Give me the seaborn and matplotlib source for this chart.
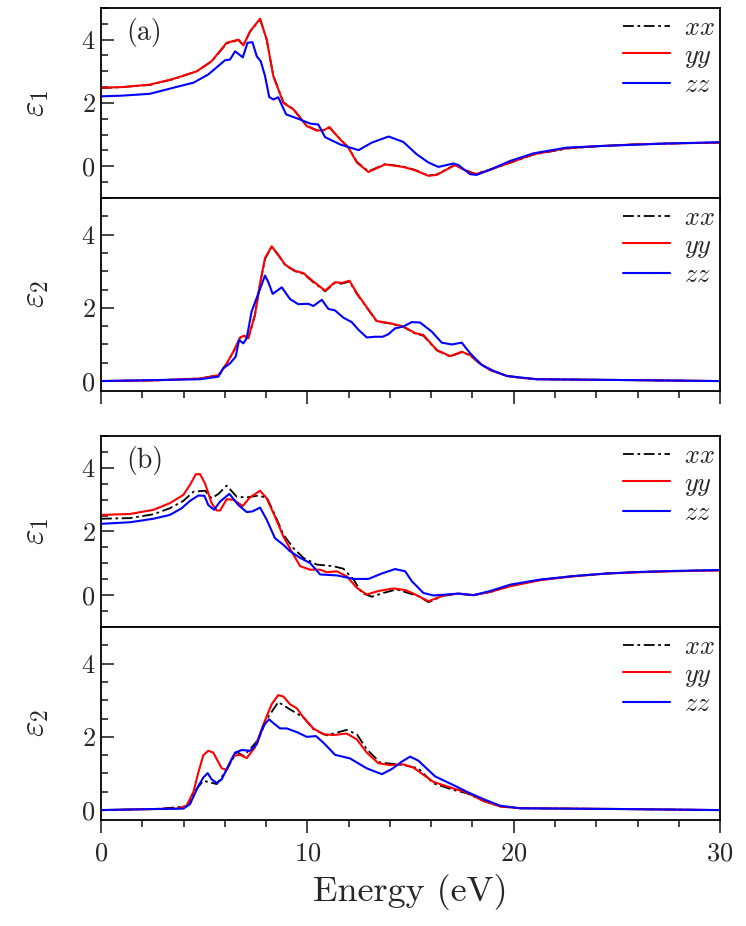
import numpy as np
import pandas as pd
import matplotlib
matplotlib.use('Agg')
import matplotlib.pyplot as plt
import seaborn as sns
from matplotlib.ticker import MultipleLocator

# ---- panel (a), epsilon_1 ----
a1_yy_e = [0, 1.0, 2.37, 3.5, 4.64, 5.36, 6.09, 6.66, 6.9, 7.22, 7.71, 8.03, 8.35, 8.84, 9.32, 9.97,
           10.46, 10.78, 11.07, 11.59, 11.99, 12.4, 12.96, 13.77, 14.65, 15.2, 15.87, 16.27, 16.76,
           17.16, 17.56, 18.13, 18.77, 19.83, 20.96, 22.57, 24.19, 25.8, 27.42, 30]
a1_yy = [2.48, 2.5, 2.58, 2.76, 3.0, 3.32, 3.9, 4.0, 3.82, 4.26, 4.66, 4.0, 2.85, 2.0, 1.8, 1.27,
         1.13, 1.13, 1.24, 0.85, 0.59, 0.12, -0.18, 0.06, -0.02, -0.12, -0.3, -0.27, -0.1,
         0.04, -0.1, -0.25, -0.13, 0.12, 0.38, 0.57, 0.64, 0.69, 0.72, 0.75]
a1_xx = [2.47, 2.5, 2.57, 2.75, 3.0, 3.31, 3.88, 3.99, 3.82, 4.25, 4.64, 4.0, 2.86, 2.02, 1.81, 1.28,
         1.14, 1.14, 1.22, 0.86, 0.6, 0.14, -0.16, 0.07, -0.01, -0.11, -0.29, -0.26, -0.09,
         0.05, -0.09, -0.24, -0.12, 0.11, 0.37, 0.56, 0.64, 0.69, 0.72, 0.75]
a1_zz_e = [0, 1.0, 2.37, 3.5, 4.48, 5.2, 6.01, 6.25, 6.5, 6.66, 6.87, 7.1, 7.34, 7.55, 7.74, 7.95,
           8.15, 8.35, 8.59, 8.97, 9.64, 10.13, 10.53, 10.86, 11.59, 12.48, 13.13, 13.94, 14.65,
           15.3, 15.87, 16.35, 17.08, 17.32, 17.89, 18.21, 18.77, 19.83, 20.96, 22.57, 24.19,
           25.8, 27.42, 30]
a1_zz = [2.21, 2.23, 2.29, 2.48, 2.64, 2.9, 3.35, 3.37, 3.63, 3.55, 3.44, 3.9, 3.92, 3.47, 3.32, 2.85,
         2.19, 2.11, 2.18, 1.64, 1.48, 1.35, 1.32, 0.92, 0.69, 0.51, 0.75, 0.94, 0.77,
         0.38, 0.12, -0.02, 0.09, 0.04, -0.25, -0.27, -0.13, 0.17, 0.41, 0.59, 0.64,
         0.68, 0.72, 0.76]

# ---- panel (a), epsilon_2 ----
a2_yy_e = [0, 2.7, 4.8, 5.69, 6.09, 6.41, 6.74, 6.93, 7.14, 7.46, 7.71, 7.95, 8.27, 8.59, 8.92, 9.4,
           9.81, 10.29, 10.86, 11.34, 11.67, 12.04, 12.4, 12.8, 13.36, 14.01, 14.65, 15.22, 15.62,
           16.27, 16.92, 17.48, 17.89, 18.37, 18.86, 19.67, 20.31, 21.12, 25, 30]
a2_yy = [0, 0.02, 0.07, 0.16, 0.48, 0.8, 1.19, 1.24, 1.17, 1.81, 2.68, 3.36, 3.68, 3.45, 3.18, 3.01,
         2.95, 2.72, 2.47, 2.7, 2.68, 2.74, 2.4, 2.08, 1.64, 1.58, 1.49, 1.31, 1.26,
         0.85, 0.68, 0.8, 0.71, 0.48, 0.3, 0.14, 0.09, 0.05, 0.03, 0.0]
a2_xx = [0, 0.02, 0.07, 0.16, 0.47, 0.79, 1.18, 1.23, 1.17, 1.8, 2.66, 3.34, 3.66, 3.44, 3.17, 3.0,
         2.93, 2.7, 2.45, 2.68, 2.66, 2.72, 2.38, 2.07, 1.63, 1.57, 1.48, 1.3, 1.24,
         0.84, 0.67, 0.79, 0.7, 0.47, 0.3, 0.14, 0.09, 0.05, 0.03, 0.0]
a2_zz_e = [0, 4.8, 5.69, 5.93, 6.25, 6.53, 6.69, 6.9, 7.06, 7.3, 7.63, 7.95, 8.11, 8.32, 8.76, 9.16,
           9.56, 10.05, 10.29, 10.7, 11.02, 11.34, 11.75, 12.15, 12.48, 12.88, 13.28, 13.65, 13.93,
           14.25, 14.65, 15.06, 15.46, 16.03, 16.51, 17.0, 17.48, 17.89, 18.45, 19.02, 19.67,
           21.12, 25, 30]
a2_zz = [0, 0.05, 0.12, 0.35, 0.48, 0.67, 1.12, 1.03, 1.17, 1.9, 2.4, 2.88, 2.7, 2.38, 2.56, 2.24,
         2.1, 2.11, 2.05, 2.22, 1.97, 1.93, 1.73, 1.61, 1.4, 1.19, 1.21, 1.21, 1.28,
         1.44, 1.49, 1.61, 1.6, 1.35, 1.05, 1.0, 1.05, 0.76, 0.44, 0.28, 0.14,
         0.05, 0.03, 0.0]

# ---- panel (b), epsilon_1 ----
b1_yy_e = [0, 1.41, 2.54, 3.34, 3.99, 4.31, 4.6, 4.8, 5.04, 5.36, 5.61, 5.77, 6.09, 6.41, 6.87, 7.22,
           7.71, 8.03, 8.43, 8.84, 9.24, 9.65, 10.13, 10.62, 10.94, 11.43, 11.91, 12.4, 12.88,
           13.44, 14.17, 14.74, 15.14, 15.87, 16.59, 17.32, 18.05, 18.86, 19.83, 21.28, 22.9,
           24.51, 26.13, 27.74, 30]
b1_yy = [2.52, 2.55, 2.68, 2.89, 3.15, 3.46, 3.8, 3.8, 3.51, 2.89, 2.66, 2.66, 3.01, 3.0, 2.8, 3.07,
         3.28, 3.04, 2.47, 1.84, 1.37, 0.91, 0.8, 0.8, 0.72, 0.75, 0.59, 0.23, 0.02,
         0.13, 0.21, 0.16, 0.05, -0.19, -0.01, 0.05, 0.0, 0.1, 0.28, 0.47, 0.59,
         0.68, 0.72, 0.75, 0.78]
b1_xx_e = [0, 1.41, 2.54, 3.34, 3.99, 4.48, 5.04, 5.36, 5.69, 6.09, 6.58, 7.06, 7.55, 8.03, 8.43,
           8.84, 9.32, 9.81, 10.46, 11.26, 11.75, 12.24, 12.64, 13.12, 13.69, 14.33, 15.38, 15.87,
           16.59, 17.32, 18.05, 18.86, 19.83, 21.28, 22.9, 24.51, 26.13, 27.74, 30]
b1_xx = [2.4, 2.42, 2.54, 2.73, 2.96, 3.25, 3.28, 3.04, 3.18, 3.44, 3.09, 3.07, 3.12, 3.07, 2.52,
         1.9, 1.48, 1.17, 0.96, 0.91, 0.83, 0.49, 0.07, -0.05, 0.07, 0.18, -0.03, -0.22,
         -0.02, 0.04, 0.0, 0.1, 0.29, 0.48, 0.6, 0.68, 0.73, 0.76, 0.78]
b1_zz_e = [0, 1.41, 2.54, 3.34, 3.91, 4.31, 4.72, 5.01, 5.2, 5.48, 5.77, 6.22, 6.66, 7.06, 7.34,
           7.71, 8.03, 8.43, 8.84, 9.16, 9.65, 10.13, 10.62, 11.43, 12.24, 12.96, 13.61, 14.25,
           14.74, 15.06, 15.38, 15.62, 16.11, 16.76, 17.32, 18.05, 18.86, 19.83, 21.28, 22.9,
           24.51, 26.13, 27.74, 30]
b1_zz = [2.24, 2.29, 2.4, 2.52, 2.73, 2.96, 3.13, 3.12, 2.83, 2.68, 2.94, 3.18, 2.83, 2.61, 2.63,
         2.75, 2.37, 1.79, 1.58, 1.38, 1.17, 1.01, 0.65, 0.62, 0.51, 0.51, 0.68, 0.82,
         0.75, 0.44, 0.23, 0.07, -0.01, 0.02, 0.05, 0.0, 0.13, 0.33, 0.49, 0.6,
         0.68, 0.73, 0.76, 0.79]

# ---- panel (b), epsilon_2 ----
b2_yy_e = [0, 2.7, 3.67, 4.15, 4.48, 4.72, 4.96, 5.2, 5.44, 5.85, 6.09, 6.41, 6.74, 7.06, 7.46,
           7.87, 8.27, 8.59, 8.84, 9.16, 9.49, 9.81, 10.29, 10.78, 11.26, 11.91, 12.4, 12.88,
           13.44, 14.01, 14.65, 15.14, 16.11, 17.08, 17.73, 18.53, 19.34, 20.31, 25, 30]
b2_yy = [0, 0.03, 0.04, 0.12, 0.5, 1.03, 1.5, 1.62, 1.57, 1.14, 1.1, 1.48, 1.51, 1.42, 1.71,
         2.34, 2.89, 3.14, 3.1, 2.89, 2.78, 2.53, 2.23, 2.07, 2.05, 2.09, 1.93, 1.57,
         1.28, 1.23, 1.25, 1.16, 0.77, 0.59, 0.48, 0.25, 0.1, 0.05, 0.03, 0.0]
b2_xx_e = [0, 2.7, 4.15, 4.56, 4.96, 5.61, 6.09, 6.58, 6.9, 7.22, 7.63, 8.03, 8.59, 9.16, 9.81,
           10.29, 10.94, 11.91, 12.4, 12.88, 13.52, 14.65, 15.38, 16.11, 17.08, 17.73, 18.53,
           19.34, 20.31, 25, 30]
b2_xx = [0, 0.03, 0.1, 0.53, 0.8, 0.71, 1.1, 1.59, 1.48, 1.66, 1.93, 2.48, 2.95, 2.75, 2.53,
         2.21, 2.04, 2.19, 2.07, 1.66, 1.3, 1.23, 1.14, 0.73, 0.55, 0.46, 0.25,
         0.1, 0.05, 0.03, 0.0]
b2_zz_e = [0, 2.7, 3.99, 4.31, 4.72, 4.96, 5.17, 5.36, 5.61, 5.85, 6.17, 6.5, 6.82, 7.22, 7.55,
           7.87, 8.14, 8.43, 8.68, 9.0, 9.49, 9.97, 10.42, 10.78, 11.34, 12.07, 12.88, 13.61,
           14.09, 14.57, 14.98, 15.38, 16.19, 17.16, 17.73, 18.53, 19.34, 20.31, 25, 30]
b2_zz = [0, 0.03, 0.04, 0.16, 0.66, 0.89, 1.01, 0.84, 0.74, 0.84, 1.21, 1.57, 1.64, 1.62, 1.8,
         2.3, 2.48, 2.34, 2.23, 2.23, 2.13, 2.0, 2.02, 1.84, 1.51, 1.41, 1.14, 0.98,
         1.12, 1.32, 1.46, 1.35, 0.92, 0.66, 0.5, 0.3, 0.12, 0.05, 0.03, 0.0]

sns.set_style('ticks')
plt.rcParams['font.family'] = 'serif'
plt.rcParams['font.serif'] = ['cmr10']
plt.rcParams['mathtext.fontset'] = 'cm'
plt.rcParams['axes.formatter.use_mathtext'] = True
plt.rcParams['axes.linewidth'] = 1.3

fig = plt.figure(figsize=(7.46, 9.26), dpi=100)
left, width = 0.1354, 0.8298
ax1 = fig.add_axes([left, 0.7862, width, 0.2052])
ax2 = fig.add_axes([left, 0.5778, width, 0.2084])
ax3 = fig.add_axes([left, 0.3229, width, 0.2063])
ax4 = fig.add_axes([left, 0.1145, width, 0.2084])

panels = [
    (ax1, a1_yy_e, a1_xx, a1_yy_e, a1_yy, a1_zz_e, a1_zz, r'$\varepsilon_1$', (-1, 5)),
    (ax2, a2_yy_e, a2_xx, a2_yy_e, a2_yy, a2_zz_e, a2_zz, r'$\varepsilon_2$', (-0.27, 5)),
    (ax3, b1_xx_e, b1_xx, b1_yy_e, b1_yy, b1_zz_e, b1_zz, r'$\varepsilon_1$', (-1, 5)),
    (ax4, b2_xx_e, b2_xx, b2_yy_e, b2_yy, b2_zz_e, b2_zz, r'$\varepsilon_2$', (-0.27, 5)),
]

for ax, xe, xv, ye, yv, ze, zv, ylab, ylim in panels:
    sns.lineplot(x=xe, y=xv, ax=ax, color='black', lw=1.3, linestyle=(0, (6, 2, 1.5, 2)),
                 label=r'$xx$')
    sns.lineplot(x=ye, y=yv, ax=ax, color='#ff0000', lw=1.5, label=r'$yy$')
    sns.lineplot(x=ze, y=zv, ax=ax, color='#0000ff', lw=1.5, label=r'$zz$')
    ax.set_xlim(0, 30)
    ax.set_ylim(*ylim)
    ax.xaxis.set_major_locator(MultipleLocator(10))
    ax.xaxis.set_minor_locator(MultipleLocator(2))
    ax.yaxis.set_major_locator(MultipleLocator(2))
    ax.yaxis.set_minor_locator(MultipleLocator(0.5))
    ax.tick_params(axis='x', which='both', direction='out', top=False, width=1.2)
    ax.tick_params(axis='x', which='major', length=9, pad=7, labelsize=19)
    ax.tick_params(axis='x', which='minor', length=5)
    ax.tick_params(axis='y', which='both', direction='in', right=False, width=1.2)
    ax.tick_params(axis='y', which='major', length=9, pad=4, labelsize=19)
    ax.tick_params(axis='y', which='minor', length=5)
    ax.set_ylabel(ylab, fontsize=24)
    ax.yaxis.set_label_coords(-0.08, 0.5)
    ax.set_xlabel('')
    ax.legend(loc='upper right', bbox_to_anchor=(1.008, 1.012), frameon=False, fontsize=19,
              handlelength=1.8, handletextpad=0.5, labelspacing=0.15, borderaxespad=0.0)
    for s in ax.spines.values():
        s.set_linewidth(1.3)
        s.set_color('black')
    ax.set_facecolor('white')

for ax in (ax1, ax2, ax3):
    ax.tick_params(axis='x', labelbottom=False)

ax4.set_xlabel('Energy (eV)', fontsize=26, labelpad=6)

ax1.text(0.04, 0.87, '(a)', transform=ax1.transAxes, fontsize=20, va='center')
ax3.text(0.04, 0.87, '(b)', transform=ax3.transAxes, fontsize=20, va='center')

fig.savefig('out.png', dpi=100, facecolor='white')
